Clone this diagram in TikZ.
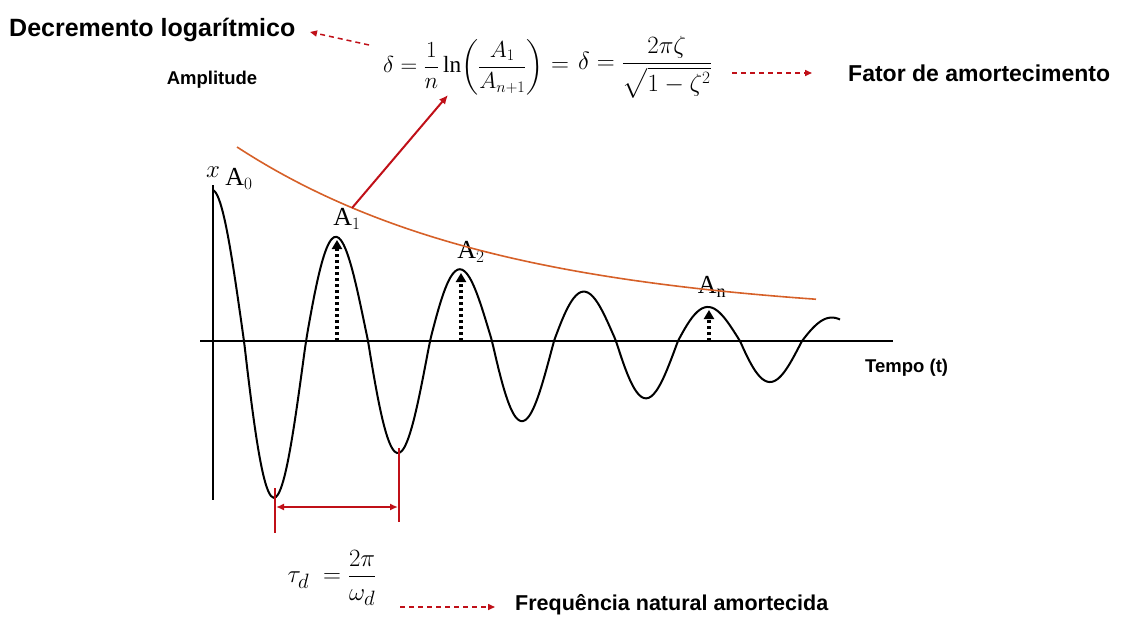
\documentclass[tikz,border=0pt]{standalone}
\usepackage{fontspec}
\setmainfont{Liberation Serif}
\setsansfont{Liberation Sans}
\usepackage{amsmath}
\usetikzlibrary{arrows.meta}
\definecolor{envcolor}{RGB}{214,96,40}
\definecolor{darkred}{RGB}{192,16,24}

\begin{document}
\begin{tikzpicture}[x=1pt,y=-1pt,
  bigtext/.style={font=\sffamily\bfseries\fontsize{23}{27}\selectfont,inner sep=0pt},
  smalltext/.style={font=\sffamily\bfseries\fontsize{18.5}{22}\selectfont,inner sep=0pt},
  peaklabel/.style={font=\fontsize{26}{30}\selectfont,inner sep=0pt},
  formula/.style={font=\fontsize{25}{30}\selectfont,inner sep=0pt},
  dasharrow/.style={draw=darkred,line width=1.5pt,dash pattern=on 5pt off 4pt,-{Triangle[length=7pt,width=6pt]}},
  amparrow/.style={draw=black,line width=3.5pt,dash pattern=on 3pt off 3pt,-{Triangle[length=9pt,width=10pt]}},
  redline/.style={draw=darkred,line width=2pt}
]
  \useasboundingbox (0,0) rectangle (1138,618);

  \node[bigtext,font=\sffamily\bfseries\fontsize{25}{29}\selectfont,anchor=west] (decr) at (9,30) {Decremento logarítmico};
  \node[formula,anchor=west] (logdec) at (383,67) {\scalebox{0.93}{$\displaystyle\delta=\frac{1}{n}\ln\!\left(\frac{A_1}{A_{n+1}}\right)$}};
  \node[formula] (equal) at (560,67) {$=$};
  \node[formula,font=\fontsize{26}{30}\selectfont,anchor=west] (damp) at (578,67) {$\displaystyle\delta=\frac{2\pi\zeta}{\sqrt{1-\zeta^{2}}}$};
  \node[bigtext,anchor=west] (fator) at (848,73) {Fator de amortecimento};
  \node[smalltext] (ampl) at (212,80) {Amplitude};
  \node[font=\fontsize{24}{28}\selectfont,inner sep=0pt] (xlab) at (213,172) {$x$};
  \node[smalltext,anchor=west] (tempo) at (865,368) {Tempo (t)};
  \node[formula,font=\fontsize{30}{36}\selectfont] (tau) at (332,578) {$\displaystyle\tau_d\;=\frac{2\pi}{\omega_d}$};
  \node[bigtext,font=\sffamily\bfseries\fontsize{21.5}{26}\selectfont,anchor=west] (freq) at (515,605) {Frequência natural amortecida};

  \node[peaklabel] (a0) at (239,179) {A$_0$};
  \node[peaklabel] (a1) at (347,219) {A$_1$};
  \node[peaklabel] (a2) at (471,252) {A$_2$};
  \node[peaklabel] (an) at (712,287) {A$_\mathrm{n}$};

  \coordinate (xstart) at (200,341);
  \coordinate (xend) at (893,341);
  \coordinate (ytop) at (213,185);
  \coordinate (ybot) at (213,500);
  \draw[line width=2pt] (xstart) -- (xend);
  \draw[line width=2pt] (ytop) -- (ybot);

  \draw[line width=2pt] plot[domain=0:627,samples=260,smooth]
    ({213+\x},{341-(cos(\x/124*360)>0 ? 151*exp(-0.003*\x) : 185*exp(-0.0027*\x))*cos(\x/124*360)});

  \draw[envcolor,line width=1.6pt] plot[domain=237:816,samples=60,smooth]
    (\x,{318-171*exp(-(\x-237)/262)});

  \foreach \name/\px/\py in {p1/337/240, p2/461/273, pn/709/310}{
    \coordinate (\name) at (\px,\py);
    \coordinate (\name-base) at (\px,341);
    \draw[amparrow] (\name-base) -- (\name);
  }

  \coordinate (tr1) at (275,488);
  \coordinate (tr1-low) at (275,533);
  \coordinate (tr2) at (399,448);
  \coordinate (tr2-low) at (399,522);
  \coordinate (dim-l) at (276,507);
  \coordinate (dim-r) at (398,507);
  \draw[redline] (tr1) -- (tr1-low);
  \draw[redline] (tr2) -- (tr2-low);
  \draw[redline,{Latex[length=8pt,width=7pt]}-{Latex[length=8pt,width=7pt]}] (dim-l) -- (dim-r);

  \coordinate (env-a1) at (352,208);
  \coordinate (logdec-n) at (448,95);
  \draw[redline,-{Latex[length=9pt,width=8pt]}] (env-a1) -- (logdec-n);

  \coordinate (decr-tail) at (369,45);
  \coordinate (decr-head) at (310,32);
  \draw[dasharrow] (decr-tail) -- (decr-head);
  \coordinate (damp-tail) at (732,73);
  \coordinate (fator-head) at (812,73);
  \draw[dasharrow] (damp-tail) -- (fator-head);
  \coordinate (tau-tail) at (400,607);
  \coordinate (freq-head) at (495,607);
  \draw[dasharrow] (tau-tail) -- (freq-head);
\end{tikzpicture}
\end{document}
